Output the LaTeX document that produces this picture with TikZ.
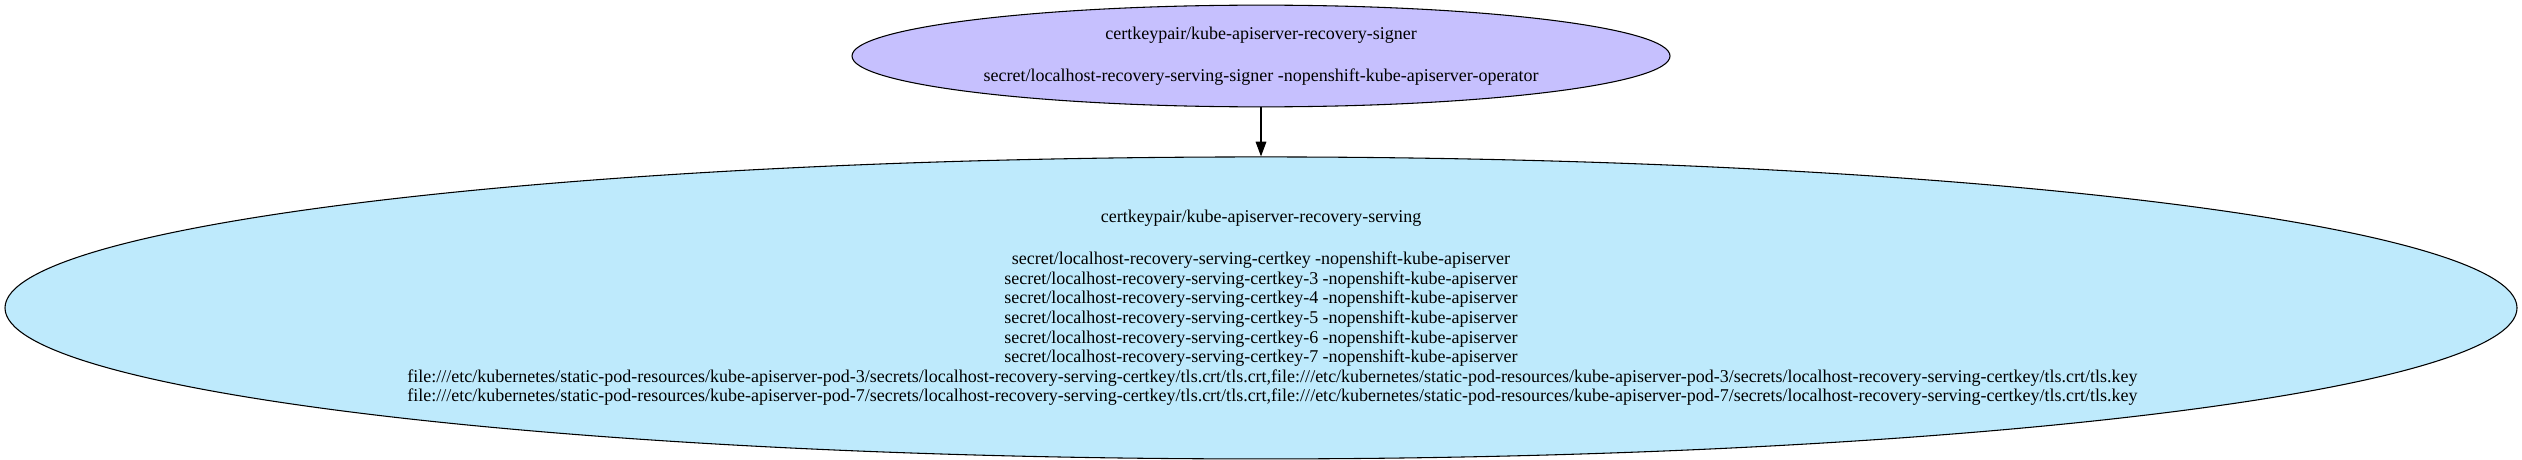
\documentclass[tikz,border=0pt]{standalone}
\usepackage{fontspec}
\setmainfont{Liberation Serif}
\definecolor{signerpurple}{RGB}{198,192,254}
\definecolor{servingblue}{RGB}{190,234,252}
\usetikzlibrary{shapes,arrows.meta,positioning}

\begin{document}
\begin{tikzpicture}[x=0.75pt, y=0.75pt,
        certnode/.style={ellipse, draw, line width=0.8pt, inner sep=0pt, align=center,
            font=\fontsize{13.5pt}{14.7pt}\selectfont},
        certedge/.style={line width=0.8pt, -{Triangle[length=11pt, width=8pt]}}]
    \useasboundingbox (0,0) rectangle (2522,-460);
    \node[certnode, fill=signerpurple, minimum width=613.5pt, minimum height=76.3pt] (signer) at (1261,-56) {
        certkeypair/kube-apiserver-recovery-signer\\[17pt]
        secret/localhost-recovery-serving-signer -nopenshift-kube-apiserver-operator
    };
    \node[certnode, fill=servingblue, minimum width=1884pt, minimum height=226.5pt, below=36.75pt of signer] (serving) {
        certkeypair/kube-apiserver-recovery-serving\\[17pt]
        secret/localhost-recovery-serving-certkey -nopenshift-kube-apiserver\\
        secret/localhost-recovery-serving-certkey-3 -nopenshift-kube-apiserver\\
        secret/localhost-recovery-serving-certkey-4 -nopenshift-kube-apiserver\\
        secret/localhost-recovery-serving-certkey-5 -nopenshift-kube-apiserver\\
        secret/localhost-recovery-serving-certkey-6 -nopenshift-kube-apiserver\\
        secret/localhost-recovery-serving-certkey-7 -nopenshift-kube-apiserver\\
        \hspace*{17pt}file:///etc/kubernetes/static-pod-resources/kube-apiserver-pod-3/secrets/localhost-recovery-serving-certkey/tls.crt/tls.crt,file:///etc/kubernetes/static-pod-resources/kube-apiserver-pod-3/secrets/localhost-recovery-serving-certkey/tls.crt/tls.key\\
        \hspace*{17pt}file:///etc/kubernetes/static-pod-resources/kube-apiserver-pod-7/secrets/localhost-recovery-serving-certkey/tls.crt/tls.crt,file:///etc/kubernetes/static-pod-resources/kube-apiserver-pod-7/secrets/localhost-recovery-serving-certkey/tls.crt/tls.key
    };
    \draw[certedge] (signer) -- (serving);
\end{tikzpicture}
\end{document}
